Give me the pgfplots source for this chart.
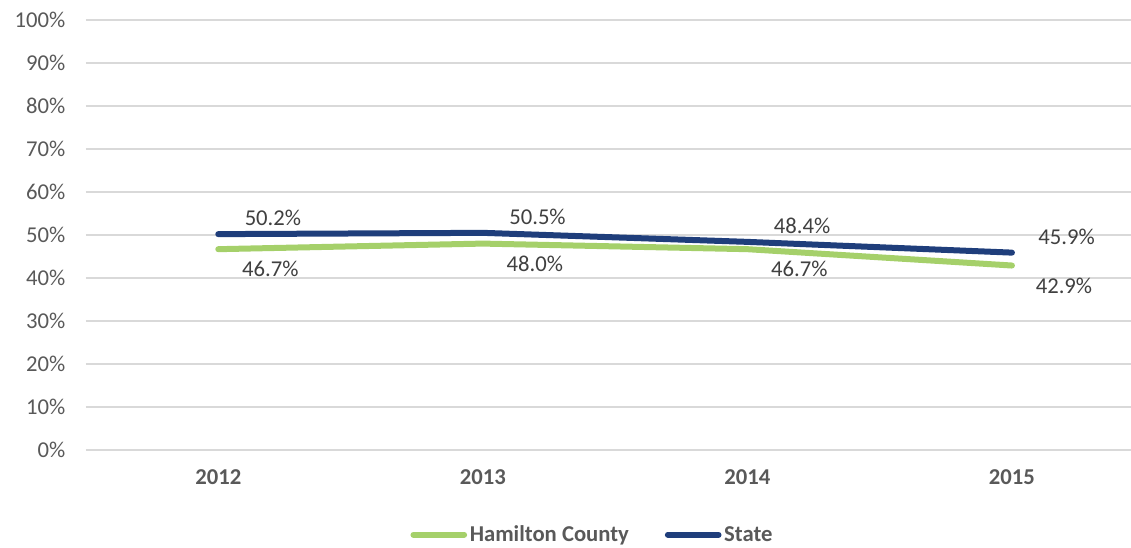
\documentclass[border=0pt]{standalone}
\usepackage{pgfplots}
\pgfplotsset{compat=1.18}
\usepackage{fontspec}
\setmainfont{Carlito}
\definecolor{hamgreen}{HTML}{A5D06A}
\definecolor{statenavy}{HTML}{1F3E7B}
\definecolor{ticktext}{HTML}{595959}
\definecolor{labeltext}{HTML}{404040}
\definecolor{gridgray}{HTML}{D9D9D9}
\begin{document}
\begin{tikzpicture}
\path[use as bounding box] (-64.5pt,-73.5pt) rectangle (783.75pt,337.5pt);
\begin{axis}[
  at={(0pt,0pt)}, anchor=south west,
  scale only axis, width=783.75pt, height=322.5pt,
  xmin=-0.5, xmax=3.45, ymin=0, ymax=100,
  xtick={0,1,2,3}, xticklabels={2012,2013,2014,2015},
  ytick={0,10,...,100},
  yticklabel={\pgfmathprintnumber[assume math mode=true]{\tick}\%},
  ymajorgrids, grid style={gridgray, line width=1.1pt},
  axis line style={draw=none}, major tick length=0pt,
  tick label style={font=\fontsize{17}{20}\selectfont, text=ticktext},
  xticklabel style={font=\fontsize{17}{20}\selectfont\bfseries, yshift=-11.5pt},
  yticklabel style={xshift=-12pt},
  legend style={at={(0.485,-0.197)}, anchor=center, draw=none, fill=none,
    legend columns=2, font=\fontsize{17}{20}\selectfont\bfseries, text=ticktext,
    /tikz/every even column/.append style={column sep=25pt}},
  legend image code/.code={\draw[#1, line width=4.5pt, line cap=round] (0pt,0pt) -- (38pt,0pt);},
  nodes near coords={\pgfmathprintnumber[fixed,fixed zerofill,precision=1,assume math mode=true]{\pgfplotspointmeta}\%},
]
\addplot[hamgreen, line width=4.5pt, line cap=round, line join=round,
  every node near coord/.append style={anchor=center, xshift=39pt, yshift=-15pt,
    font=\fontsize{17}{20}\selectfont, text=labeltext}]
  coordinates {(0,46.7) (1,48.0) (2,46.7) (3,42.9)};
\addlegendentry{Hamilton County}
\addplot[statenavy, line width=4.5pt, line cap=round, line join=round,
  every node near coord/.append style={anchor=center, xshift=41pt, yshift=12pt,
    font=\fontsize{17}{20}\selectfont, text=labeltext}]
  coordinates {(0,50.2) (1,50.5) (2,48.4) (3,45.9)};
\addlegendentry{State}
\end{axis}
\end{tikzpicture}
\end{document}
